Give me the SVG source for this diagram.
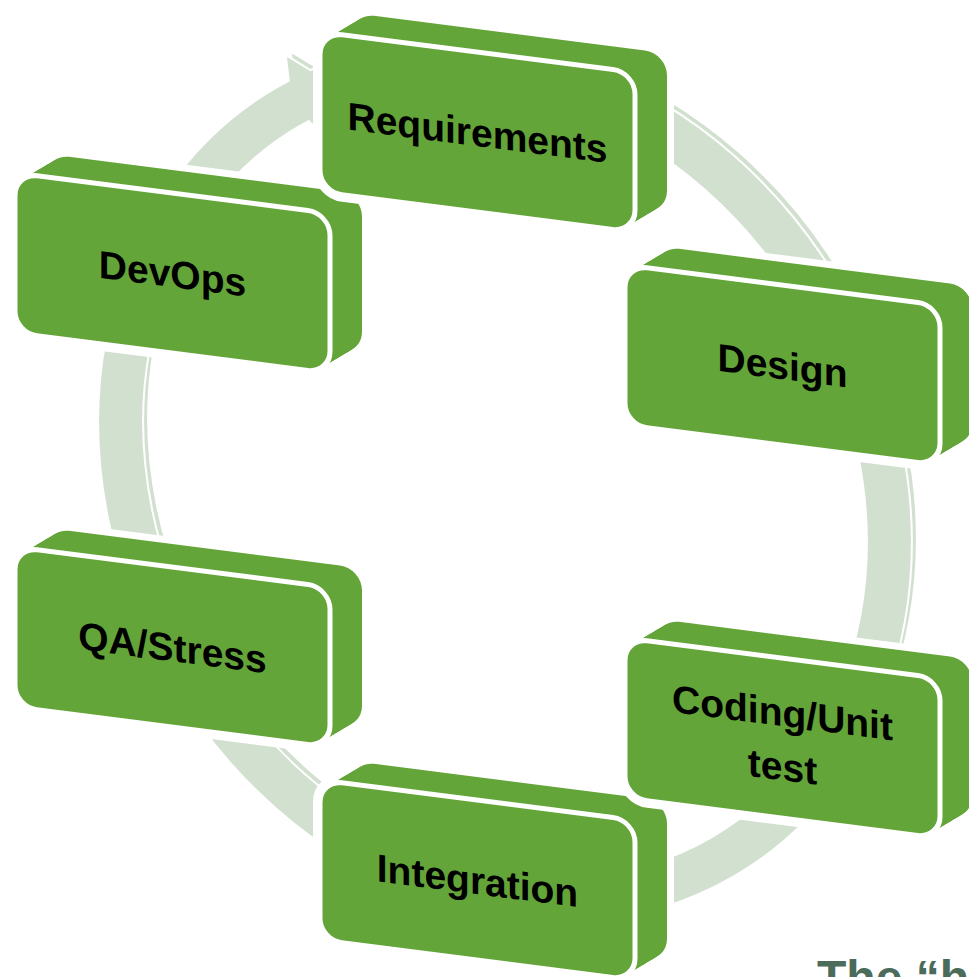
<svg xmlns="http://www.w3.org/2000/svg" xmlns:xlink="http://www.w3.org/1999/xlink" width="969" height="977" viewBox="0 0 969 977">
<style>
.ring{fill:none;stroke:#d2e1cf;stroke-width:43}
.ringw{fill:none;stroke:#ffffff;stroke-width:47}
.head{fill:#d2e1cf}
.headw{fill:#ffffff;stroke:#ffffff;stroke-width:4;stroke-linejoin:round}
.halo{fill:#ffffff;stroke:#ffffff;stroke-width:14;stroke-linejoin:round}
.slab{fill:#64a539}
.front{fill:#64a539;stroke:#ffffff;stroke-width:5}
.lbl{font-family:"Liberation Sans",Arial,sans-serif;font-weight:bold;font-size:39px;fill:#000000;text-anchor:middle}
.note{font-family:"Liberation Sans",Arial,sans-serif;font-weight:bold;font-size:48px;fill:#4b6b5b}
</style>
<defs>
<rect id="face" width="315" height="160" rx="22" ry="22" transform="skewY(7.3)"/>
<g id="hull">
<use href="#face"/>
<use href="#face" x="2" y="-1.19"/>
<use href="#face" x="4" y="-2.38"/>
<use href="#face" x="6" y="-3.56"/>
<use href="#face" x="8" y="-4.75"/>
<use href="#face" x="10" y="-5.94"/>
<use href="#face" x="12" y="-7.13"/>
<use href="#face" x="14" y="-8.31"/>
<use href="#face" x="16" y="-9.5"/>
<use href="#face" x="18" y="-10.69"/>
<use href="#face" x="20" y="-11.88"/>
<use href="#face" x="22" y="-13.06"/>
<use href="#face" x="24" y="-14.25"/>
<use href="#face" x="26" y="-15.44"/>
<use href="#face" x="28" y="-16.63"/>
<use href="#face" x="30" y="-17.81"/>
<use href="#face" x="32" y="-19"/>
</g>
</defs>

<g id="connectors">
<g id="cycle-arrow">
<g transform="translate(5,-3.5)">
<ellipse class="ring" cx="505" cy="482" rx="433.5" ry="366.5" transform="rotate(60 505 482)"/>
<polygon class="head" points="290,83 287,57 333,85 329,139 310,121"/>
</g>
<ellipse class="ringw" cx="505" cy="482" rx="433.5" ry="366.5" transform="rotate(60 505 482)"/>
<polygon class="headw" points="290,83 287,57 333,85 329,139 310,121"/>
<ellipse class="ring" cx="505" cy="482" rx="433.5" ry="366.5" transform="rotate(60 505 482)"/>
<polygon class="head" points="290,83 287,57 333,85 329,139 310,121"/>
</g>
</g>

<g id="node-qa" transform="translate(15,547)">
<use href="#hull" class="halo"/>
<use href="#hull" class="slab"/>
<use href="#face" class="front"/>
<text class="lbl" transform="skewY(7.3)" x="157.5" y="94">QA/Stress</text>
</g>

<g id="node-devops" transform="translate(15,173)">
<use href="#hull" class="halo"/>
<use href="#hull" class="slab"/>
<use href="#face" class="front"/>
<text class="lbl" transform="skewY(7.3)" x="157.5" y="94">DevOps</text>
</g>

<g id="node-integration" transform="translate(320,780)">
<use href="#hull" class="halo"/>
<use href="#hull" class="slab"/>
<use href="#face" class="front"/>
<text class="lbl" transform="skewY(7.3)" x="157.5" y="94">Integration</text>
</g>

<g id="node-coding" transform="translate(625,638)">
<use href="#hull" class="halo"/>
<use href="#hull" class="slab"/>
<use href="#face" class="front"/>
<text class="lbl" transform="skewY(7.3)" x="157.5" y="68">Coding/Unit</text>
<text class="lbl" transform="skewY(7.3)" x="157.5" y="122">test</text>
</g>

<g id="node-design" transform="translate(625,265)">
<use href="#hull" class="halo"/>
<use href="#hull" class="slab"/>
<use href="#face" class="front"/>
<text class="lbl" transform="skewY(7.3)" x="157.5" y="94">Design</text>
</g>

<g id="node-requirements" transform="translate(320,32)">
<use href="#hull" class="halo"/>
<use href="#hull" class="slab"/>
<use href="#face" class="front"/>
<text class="lbl" transform="skewY(7.3)" x="157.5" y="94">Requirements</text>
</g>

<text class="note" x="817" y="994">The “h</text>
</svg>
